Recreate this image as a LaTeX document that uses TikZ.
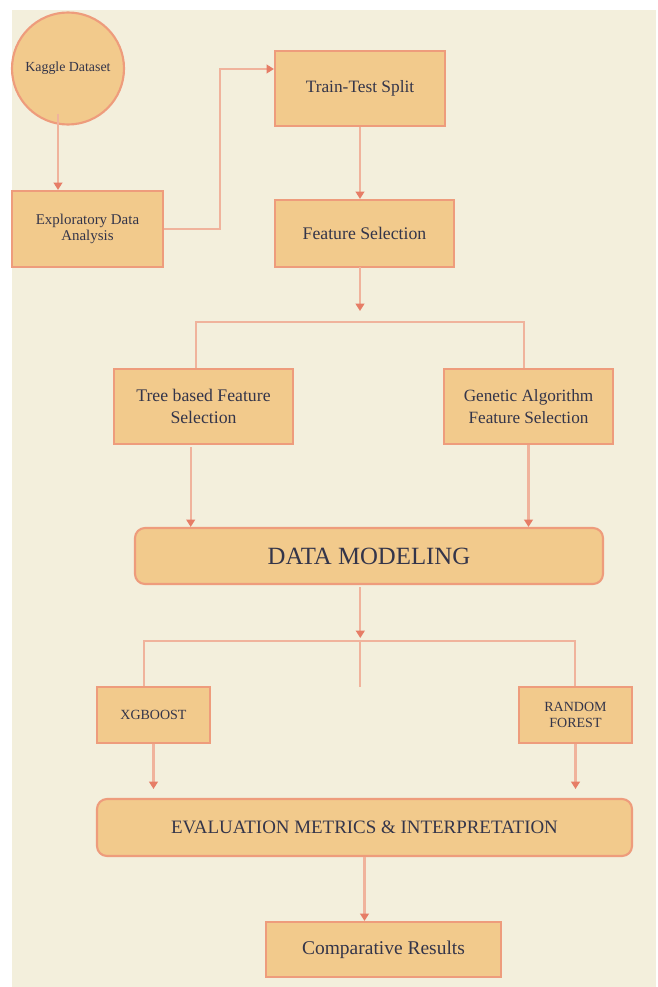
\documentclass[tikz,border=0pt]{standalone}
\usepackage{fontspec}
\setmainfont{Liberation Serif}
\usetikzlibrary{arrows.meta,calc}
\definecolor{bgcream}{HTML}{F3EFDC}
\definecolor{boxfill}{HTML}{F2CA8C}
\definecolor{boxline}{HTML}{EE9C7C}
\definecolor{conline}{HTML}{F0B39C}
\definecolor{tipcol}{HTML}{E67D66}
\definecolor{txt}{HTML}{34354A}
\begin{document}
\begin{tikzpicture}[x=0.75pt,y=-0.75pt,
  box/.style={draw=boxline,line width=1.6pt,fill=boxfill,text=txt,align=center,inner sep=0pt},
  rbox/.style={box,rounded corners=7.5pt},
  con/.style={draw=conline,line width=1.6pt},
  arr/.style={con,-{Triangle[width=6.5pt,length=5.5pt,color=tipcol]}}
]
\fill[white] (0,0) rectangle (657,987);
\fill[bgcream] (12,10) rectangle (656,987);
\useasboundingbox (0,0) rectangle (657,987);

% nodes
\node[box,circle,minimum size={112*0.75pt},font=\fontsize{10.4}{12}\selectfont] (kaggle) at (68,68.5) {Kaggle Dataset};
\node[box,minimum width={151*0.75pt},minimum height={76*0.75pt},font=\fontsize{11.2}{12.5}\selectfont] (eda) at (87.5,229) {Exploratory Data\\Analysis};
\node[box,minimum width={170*0.75pt},minimum height={75*0.75pt},font=\fontsize{13}{15}\selectfont] (tts) at (360,88.5) {Train-Test Split};
\node[box,minimum width={179*0.75pt},minimum height={67*0.75pt},font=\fontsize{13.3}{15}\selectfont] (fs) at (364.5,233.5) {Feature Selection};
\node[box,minimum width={179*0.75pt},minimum height={75*0.75pt},font=\fontsize{13.3}{16.3}\selectfont] (tree) at (203.5,406.5) {Tree based Feature\\Selection};
\node[box,minimum width={169*0.75pt},minimum height={75*0.75pt},font=\fontsize{12.9}{16.3}\selectfont] (ga) at (528.5,406.5) {Genetic Algorithm\\Feature Selection};
\node[rbox,minimum width={468*0.75pt},minimum height={56*0.75pt},font=\fontsize{18.6}{21}\selectfont] (dm) at (369,556) {DATA MODELING};
\node[box,minimum width={113*0.75pt},minimum height={56*0.75pt},font=\fontsize{10.5}{12}\selectfont] (xgb) at (153.5,715) {XGBOOST};
\node[box,minimum width={113*0.75pt},minimum height={56*0.75pt},font=\fontsize{10.5}{12}\selectfont] (rf) at (575.5,715) {RANDOM\\FOREST};
\node[rbox,minimum width={535*0.75pt},minimum height={57*0.75pt},font=\fontsize{14.2}{16}\selectfont] (eval) at (364.5,827.5) {EVALUATION METRICS \& INTERPRETATION};
\node[box,minimum width={235*0.75pt},minimum height={55*0.75pt},font=\fontsize{14.6}{16}\selectfont] (comp) at (383.5,949.5) {Comparative Results};

% helper coordinates
\coordinate (k1) at ($(kaggle.center)+(-10,45.5)$);
\coordinate (ttsin) at ($(tts.west)+(0,-19.5)$);
\coordinate (edaturn) at ($(eda.east)+(56,0)$);
\coordinate (fsout) at (360,267);
\coordinate (splittip) at (360,311);
\coordinate (sl) at (196,322);
\coordinate (sr) at (524,322);
\coordinate (t1) at (190.7,447);
\coordinate (d1) at (360.3,587);
\coordinate (d2) at (360.3,638);
\coordinate (bl) at (144,640.7);
\coordinate (bm) at (360.3,640.7);
\coordinate (bstub) at (360.3,687);
\coordinate (br) at (575,640.7);
\coordinate (xe) at (153.5,789);
\coordinate (re) at (575.5,789);

% connectors
\draw[arr] (k1) -- (k1 |- eda.north);
\draw[arr] (eda.east) -- (edaturn) |- (ttsin);
\draw[arr] (tts.south) -- (tts.south |- fs.north);
\draw[arr] (fsout) -- (splittip);
\draw[con] (sl |- tree.north) -- (sl) -- (sr) -- (sr |- ga.north);
\draw[arr] (t1) -- (t1 |- dm.north);
\draw[arr] (ga.south) -- (ga.south |- dm.north);
\draw[arr] (d1) -- (d2);
\draw[con] (bl |- xgb.north) -- (bl) -- (br) -- (br |- rf.north);
\draw[con] (bm) -- (bstub);
\draw[arr] (xgb.south) -- (xe);
\draw[arr] (rf.south) -- (re);
\draw[arr] (eval.south) -- (eval.south |- comp.north);
\end{tikzpicture}
\end{document}
